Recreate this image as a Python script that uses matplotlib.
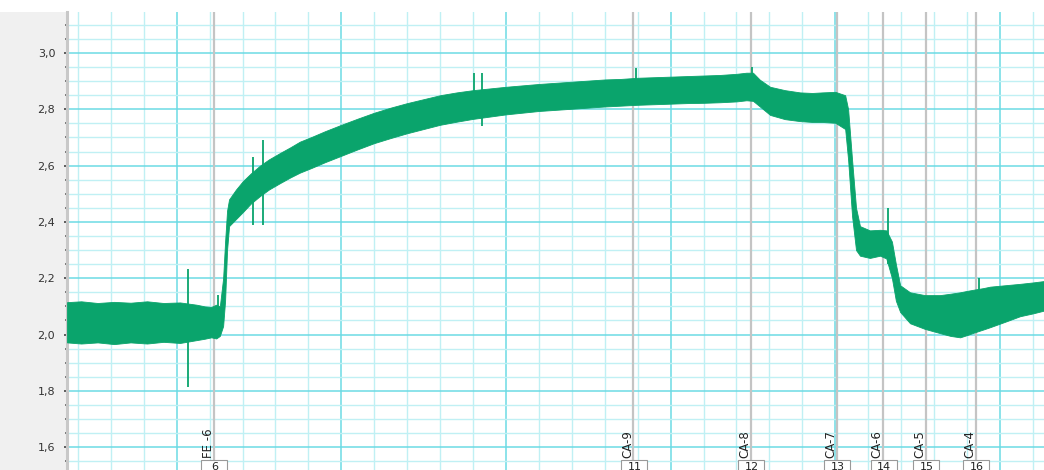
import matplotlib
matplotlib.use('Agg')
import matplotlib.pyplot as plt
from matplotlib.patches import Rectangle
from matplotlib.ticker import MultipleLocator, FuncFormatter

# envelope of the recorded band (time in grid units)
t = [1.67, 2.1, 2.6, 3.1, 3.6, 4.1, 4.6, 5.1, 5.6, 5.85,
     6.05, 6.2, 6.31, 6.41, 6.47, 6.53, 6.59, 6.8, 7.01, 7.25,
     7.53, 7.8, 8.14, 8.45, 8.74, 9.1, 9.5, 10.0, 10.5, 11.0,
     11.5, 12.0, 12.5, 13.0, 13.5, 14.0, 14.5, 15.0, 15.5, 16.0,
     16.5, 17.0, 17.5, 18.0, 18.5, 19.0, 19.5, 20.0, 20.5, 21.0,
     21.5, 22.0, 22.3, 22.5, 22.71, 23.02, 23.47, 23.93, 24.3, 24.6,
     25.0, 25.3, 25.39, 25.51, 25.63, 25.75, 26.05, 26.36, 26.55, 26.72,
     26.84, 26.97, 27.27, 27.72, 28.18, 28.5, 28.79, 29.0, 29.24, 29.5,
     29.7, 30.15, 30.61, 31.0, 31.34]
upper = [2.115, 2.118, 2.112, 2.116, 2.113, 2.118, 2.112, 2.114, 2.106, 2.100,
         2.098, 2.106, 2.100, 2.200, 2.330, 2.440, 2.480, 2.515, 2.545, 2.572,
         2.600, 2.622, 2.645, 2.665, 2.685, 2.702, 2.722, 2.745, 2.767, 2.788,
         2.806, 2.822, 2.836, 2.850, 2.860, 2.868, 2.874, 2.880, 2.885, 2.890,
         2.894, 2.898, 2.902, 2.906, 2.908, 2.912, 2.914, 2.916, 2.918, 2.920,
         2.922, 2.926, 2.930, 2.930, 2.905, 2.880, 2.868, 2.860, 2.858, 2.860,
         2.862, 2.850, 2.800, 2.620, 2.450, 2.385, 2.370, 2.372, 2.370, 2.330,
         2.250, 2.175, 2.150, 2.140, 2.140, 2.145, 2.150, 2.155, 2.160, 2.165,
         2.170, 2.175, 2.180, 2.185, 2.190]
lower = [1.972, 1.968, 1.972, 1.966, 1.972, 1.968, 1.974, 1.970, 1.980, 1.985,
         1.990, 1.986, 1.995, 2.030, 2.120, 2.300, 2.385, 2.410, 2.435, 2.465,
         2.492, 2.515, 2.538, 2.558, 2.575, 2.592, 2.612, 2.635, 2.658, 2.680,
         2.698, 2.715, 2.730, 2.745, 2.756, 2.766, 2.774, 2.782, 2.788, 2.794,
         2.798, 2.802, 2.806, 2.810, 2.813, 2.816, 2.818, 2.820, 2.822, 2.823,
         2.825, 2.828, 2.832, 2.830, 2.810, 2.780, 2.765, 2.758, 2.755, 2.755,
         2.752, 2.730, 2.620, 2.420, 2.300, 2.280, 2.272, 2.280, 2.270, 2.200,
         2.120, 2.080, 2.040, 2.020, 2.005, 1.995, 1.990, 1.998, 2.008, 2.018,
         2.026, 2.045, 2.065, 2.075, 2.085]

# isolated spikes: position, low, high
spike_t = [5.35, 6.25, 7.32, 7.62, 9.44, 14.03, 14.27, 18.95, 22.47, 26.60, 29.36]
spike_lo = [1.815, 2.05, 2.39, 2.39, 2.61, 2.80, 2.74, 2.85, 2.85, 2.25, 2.05]
spike_hi = [2.233, 2.14, 2.63, 2.69, 2.70, 2.93, 2.93, 2.947, 2.95, 2.45, 2.20]

# event markers
event_t = [6.14, 18.87, 22.44, 25.04, 26.46, 27.75, 29.26]
event_names = ['FE -6', 'CA-9', 'CA-8', 'CA-7', 'CA-6', 'CA-5', 'CA-4']
event_ids = ['6', '11', '12', '13', '14', '15', '16']

green = '#0aa46c'

fig = plt.figure(figsize=(10.44, 4.70), dpi=100)
fig.patches.append(Rectangle((0, 0), 66 / 1044, 458 / 470, transform=fig.transFigure,
                             facecolor='#f0f0f0', edgecolor='none', zorder=-1))

ax = fig.add_axes([67 / 1044, 0, 977 / 1044, 458 / 470])
ax.set_xlim(1.669, 31.338)
ax.set_ylim(1.5188, 3.1456)

ax.xaxis.set_major_locator(MultipleLocator(5))
ax.xaxis.set_minor_locator(MultipleLocator(1))
ax.yaxis.set_major_locator(MultipleLocator(0.2))
ax.yaxis.set_minor_locator(MultipleLocator(0.05))
ax.grid(True, which='major', color='#6cdbe4', lw=1.1)
ax.grid(True, which='minor', color='#c0f0f4', lw=1.0)
ax.set_axisbelow(True)

ax.yaxis.set_major_formatter(FuncFormatter(lambda v, p: ('%.1f' % v).replace('.', ',')))
ax.tick_params(axis='y', which='major', length=2.5, width=1.2, color='#444',
               labelsize=8, labelcolor='#333', pad=6)
ax.tick_params(axis='y', which='minor', length=1.2, width=1.2, color='#666')
ax.tick_params(axis='x', which='both', length=0, labelbottom=False)

for s in ['top', 'right', 'bottom']:
    ax.spines[s].set_visible(False)
ax.spines['left'].set_color('#c8c8c8')
ax.spines['left'].set_linewidth(2.2)

ax.fill_between(t, lower, upper, color=green, lw=0.6, zorder=3)
ax.vlines(spike_t, spike_lo, spike_hi, color=green, lw=1.3, zorder=3)

trans = ax.get_xaxis_transform()
for x, name, num in zip(event_t, event_names, event_ids):
    ax.axvline(x, color='#c4c4c4', lw=1.6, zorder=2)
    ax.annotate(name, xy=(x, 0), xycoords=trans, xytext=(-6, 12), textcoords='offset pixels',
                rotation=90, ha='center', va='bottom', fontsize=8.5, color='#222')
    ax.add_patch(Rectangle((x - 0.39, -0.03), 0.79, 0.03 + 10 / 458, transform=trans,
                           facecolor='white', edgecolor='#999999', lw=0.8, zorder=5,
                           clip_on=False))
    ax.annotate(num, xy=(x, 0), xycoords=trans, xytext=(1, 3), textcoords='offset pixels',
                ha='center', va='center', fontsize=8, color='#222', zorder=6)

fig.savefig('out.png', dpi=100)
